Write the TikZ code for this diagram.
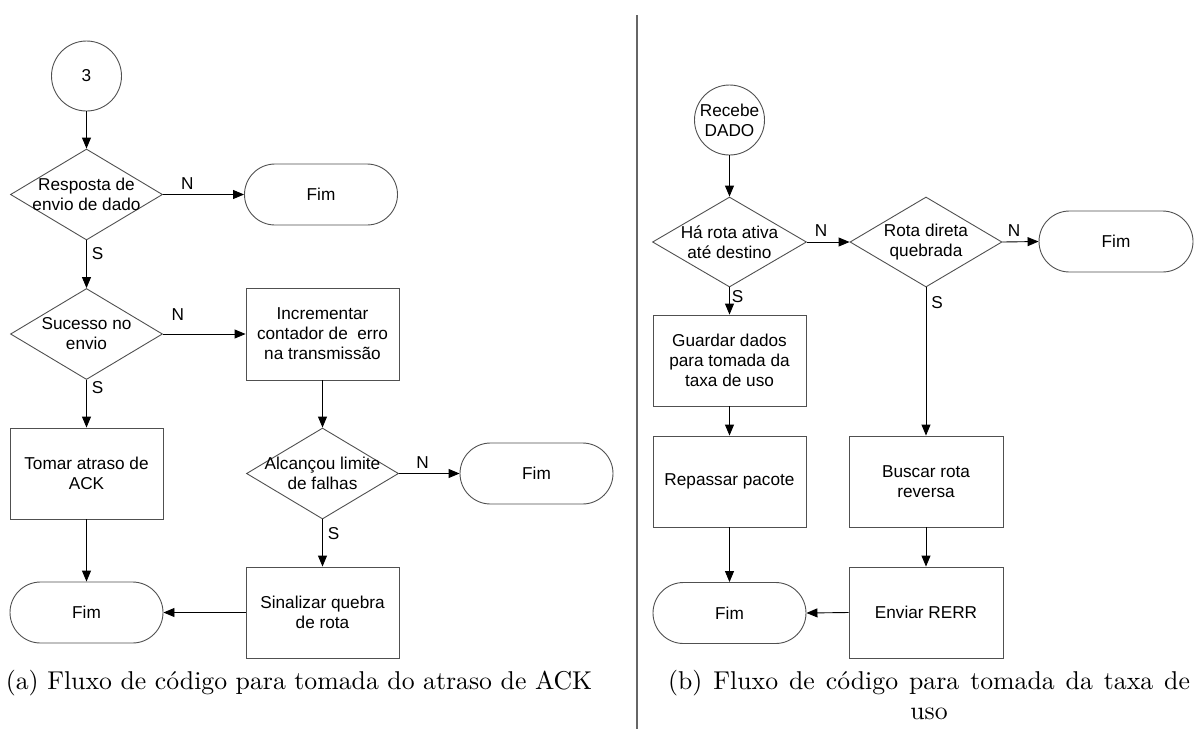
\documentclass[tikz,border=0pt]{standalone}
\usepackage{fontspec}
\newfontfamily\flowsans{Liberation Sans}
\usetikzlibrary{shapes.geometric,shapes.misc,arrows.meta}
\newcommand\flowfont{\flowsans\fontsize{17.2}{20}\selectfont}
\definecolor{shapeline}{HTML}{505050}
\tikzset{
  procbox/.style={rectangle, draw=shapeline, line width=0.9pt, minimum width=153pt, minimum height=91pt, inner sep=0pt, align=center, font=\flowfont},
  decision/.style={diamond, draw=shapeline, line width=0.9pt, minimum width=152pt, minimum height=91pt, inner sep=0pt},
  dtext/.style={font=\flowfont, align=center, inner sep=0pt},
  termbox/.style={rounded rectangle, draw=shapeline, line width=0.9pt, minimum width=153pt, minimum height=61pt, inner sep=0pt, font=\flowfont},
  connector/.style={circle, draw=shapeline, line width=0.9pt, minimum size=70pt, inner sep=0pt, align=center, font=\flowfont},
  arr/.style={-{Triangle[length=11pt,width=9pt]}, line width=0.9pt, black},
  elab/.style={font=\flowfont, inner sep=5pt, text=black}
}
\begin{document}
\begin{tikzpicture}[x=1pt,y=-1pt]
\useasboundingbox (0,0) rectangle (1194,729);

% ---------------- left panel ----------------
\node[connector] (c3) at (86.5,76) {3};
\node[decision, label={[dtext]center:Resposta de\\envio de dado}] (d1) at (86.5,194.5) {};
\node[termbox] (f1) at (321,194.5) {Fim};
\node[decision, label={[dtext]center:Sucesso no\\envio}] (d2) at (86.5,334) {};
\node[procbox, minimum height=92pt] (r1) at (322.5,334) {Incrementar\\contador de\ \ erro\\na transmissão};
\node[procbox] (r2) at (86.5,473.5) {Tomar atraso de\\ACK};
\node[decision, label={[dtext]center:Alcançou limite\\de falhas}] (d3) at (322.5,473.5) {};
\node[termbox] (f2) at (536.5,473.5) {Fim};
\node[procbox] (r3) at (322.5,612.5) {Sinalizar quebra\\de rota};
\node[termbox] (f3) at (86.5,612.5) {Fim};

\draw[arr] (c3) -- (d1);
\draw[arr] (d1.east) -- node[elab, pos=0.3, above]{N} (f1.west);
\draw[arr] (d1.south) -- node[elab, pos=0.27, right]{S} (d2.north);
\draw[arr] (d2.east) -- node[elab, pos=0.18, above=8pt]{N} (r1.west);
\draw[arr] (d2.south) -- node[elab, pos=0.16, right]{S} (r2.north);
\draw[arr] (r1.south) -- (d3.north);
\draw[arr] (d3.east) -- node[elab, pos=0.39, above]{N} (f2.west);
\draw[arr] (d3.south) -- node[elab, pos=0.29, right]{S} (r3.north);
\draw[arr] (r2.south) -- (f3.north);
\draw[arr] (r3.west) -- (f3.east);

% divider
\draw[line width=1.3pt, black!60] (637,15) -- (637,729);

% ---------------- right panel ----------------
\node[connector] (c2) at (729.5,120) {Recebe\\DADO};
\node[decision, minimum width=154pt, minimum height=90pt, label={[dtext]center:Há rota ativa\\até destino}] (dA) at (729.5,242) {};
\node[decision, minimum height=90pt, label={[dtext]center:Rota direta\\quebrada}] (dB) at (926,242) {};
\node[termbox, minimum width=154pt] (f4) at (1116,241.5) {Fim};
\node[procbox] (gA) at (729.5,360.5) {Guardar dados\\para tomada da\\taxa de uso};
\node[procbox] (rp) at (729.5,481.5) {Repassar pacote};
\node[procbox, minimum width=154pt] (bu) at (926,481.5) {Buscar rota\\reversa};
\node[termbox] (f5) at (729.5,613) {Fim};
\node[procbox, minimum width=154pt] (en) at (926,612.5) {Enviar RERR};

\draw[arr] (c2) -- (dA);
\draw[arr] (dA.east) -- node[elab, pos=0.33, above]{N} (dB.west);
\draw[arr] (dB.east) -- node[elab, pos=0.32, above]{N} (f4.west);
\draw[arr] (dA.south) -- node[elab, pos=0.32, right, inner sep=2pt]{S} (gA.north);
\draw[arr] (gA.south) -- (rp.north);
\draw[arr] (rp.south) -- (f5.north);
\draw[arr] (dB.south) -- node[elab, pos=0.1, right]{S} (bu.north);
\draw[arr] (bu.south) -- (en.north);
\draw[arr] (en.west) -- (f5.east);

% ---------------- captions ----------------
\node[anchor=base, inner sep=0pt] (capa) at (299,689)
  {\scalebox{2.575}{(a) Fluxo de código para tomada do atraso de ACK}};
\node[anchor=base, inner sep=0pt] (capb) at (929,689)
  {\scalebox{2.575}{\parbox[t]{202.7pt}{\parindent=0pt\leftskip=0pt plus 1fil\rightskip=0pt plus -1fil\parfillskip=0pt plus 2fil
  (b) Fluxo de código para tomada da taxa de uso\par}}};
\end{tikzpicture}
\end{document}
